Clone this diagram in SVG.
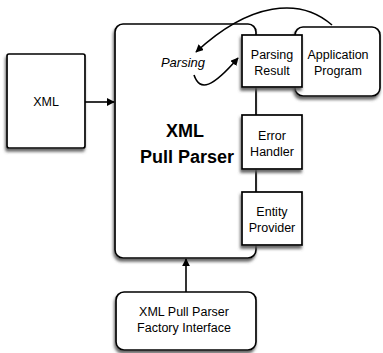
<svg xmlns="http://www.w3.org/2000/svg" width="383" height="353" viewBox="0 0 383 353">
<style>
  .box { fill: #ffffff; stroke: #000000; stroke-width: 1.7; filter: url(#shadow); }
  .t { font-family: "Liberation Sans", Arial, sans-serif; font-size: 12.5px; fill: #000; text-anchor: middle; }
  .big { font-family: "Liberation Sans", Arial, sans-serif; font-size: 18px; font-weight: bold; fill: #000; text-anchor: middle; }
  .it { font-family: "Liberation Sans", Arial, sans-serif; font-size: 13px; font-style: italic; fill: #000; text-anchor: middle; }
  .conn { fill: none; stroke: #000; stroke-width: 1.6; }
</style>
<defs>
  <filter id="shadow" x="-20%" y="-20%" width="140%" height="140%">
    <feDropShadow dx="-1" dy="3" stdDeviation="1.5" flood-color="#555555" flood-opacity="0.9"/>
  </filter>
  <marker id="arr" viewBox="0 0 10 10" refX="9" refY="5" markerWidth="8" markerHeight="8" markerUnits="userSpaceOnUse" orient="auto">
    <path d="M0,0 L10,5 L0,10 z" fill="#000"/>
  </marker>
</defs>
<rect width="383" height="353" fill="#ffffff"/>

<g id="main">
  <rect class="box" x="115" y="24" width="141" height="234" rx="8"/>
  <text class="big" x="185" y="137">XML</text>
  <text class="big" x="187" y="163">Pull Parser</text>
</g>

<g id="xml">
  <rect class="box" x="7" y="54" width="78" height="94" rx="2"/>
  <text class="t" x="46" y="106">XML</text>
</g>

<g id="app">
  <rect class="box" x="295" y="27" width="85" height="69" rx="8"/>
  <text class="t" x="338" y="59">Application</text>
  <text class="t" x="338" y="75">Program</text>
</g>

<g id="result">
  <rect class="box" x="242" y="35" width="60" height="52"/>
  <text class="t" x="272" y="59">Parsing</text>
  <text class="t" x="272" y="75">Result</text>
</g>

<g id="error">
  <rect class="box" x="242" y="115" width="60" height="54"/>
  <text class="t" x="272" y="140">Error</text>
  <text class="t" x="272" y="156">Handler</text>
</g>

<g id="entity">
  <rect class="box" x="242" y="192" width="60" height="53"/>
  <text class="t" x="272" y="216">Entity</text>
  <text class="t" x="272" y="232">Provider</text>
</g>

<g id="factory">
  <rect class="box" x="116" y="292" width="140" height="58" rx="8"/>
  <text class="t" x="184" y="316">XML Pull Parser</text>
  <text class="t" x="184" y="332">Factory Interface</text>
</g>

<g id="parsing-label">
  <text class="it" x="183" y="67">Parsing</text>
</g>

<g id="connectors">
  <line class="conn" x1="85" y1="102" x2="114" y2="102" marker-end="url(#arr)"/>
  <line class="conn" x1="186" y1="292" x2="186" y2="259" marker-end="url(#arr)"/>
  <path class="conn" d="M332,25 C300,-3 250,2 196,52" marker-end="url(#arr)"/>
  <path class="conn" d="M194,75 C200,92 212,88 238,58" marker-end="url(#arr)"/>
</g>
</svg>
